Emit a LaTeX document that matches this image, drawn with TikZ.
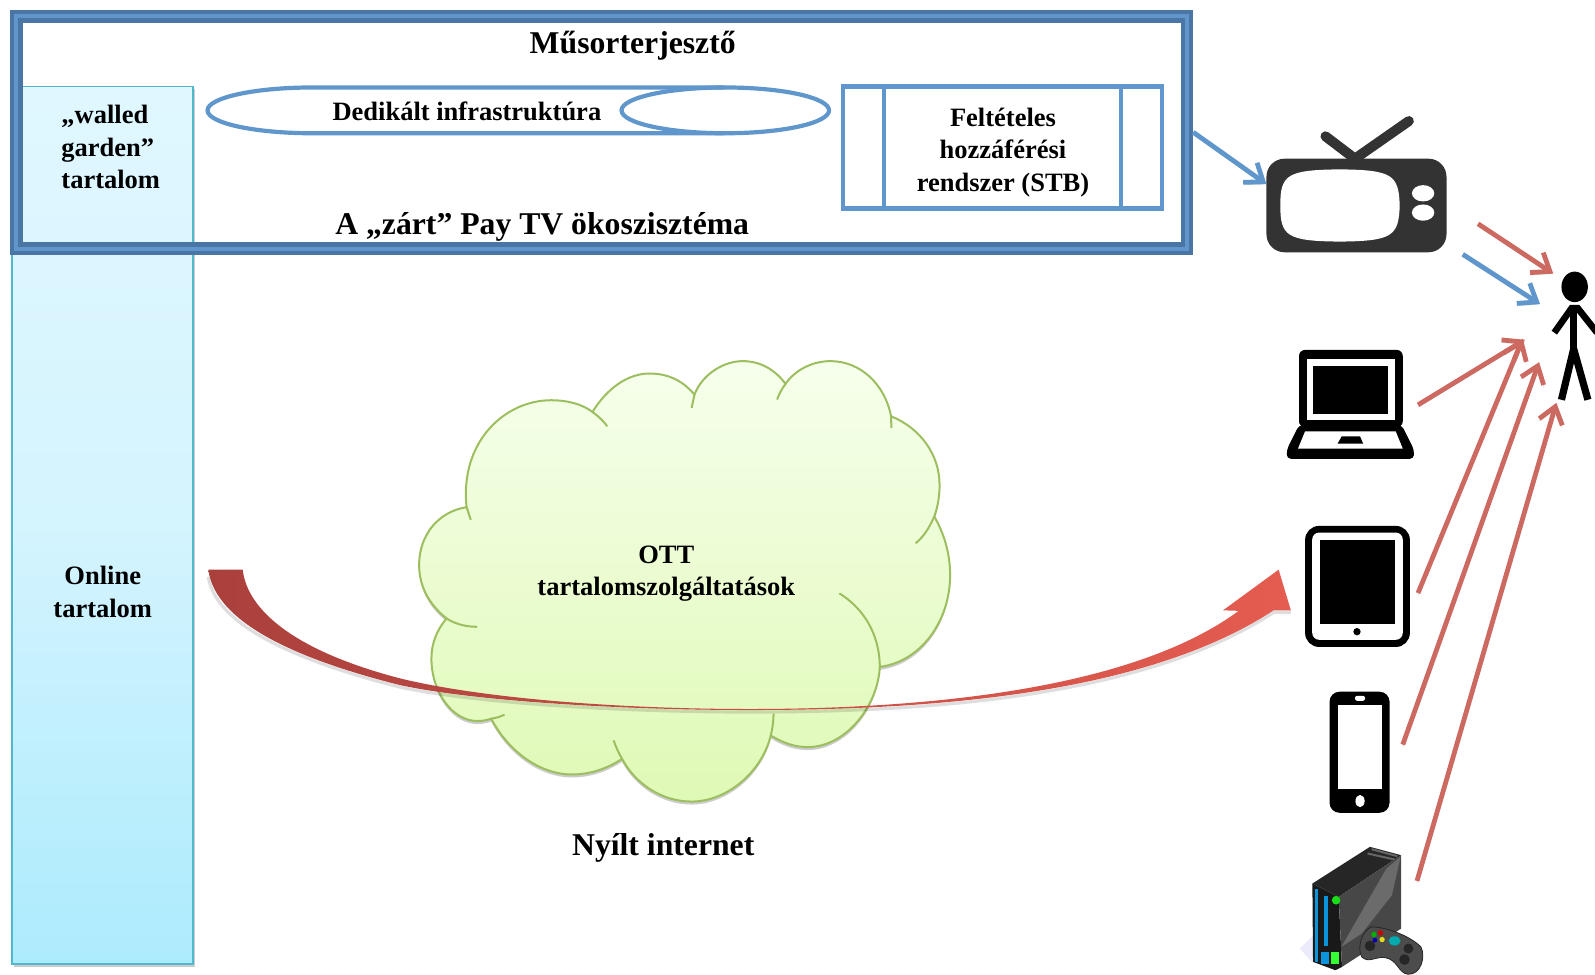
\documentclass[tikz,border=0pt]{standalone}
\usepackage{fontspec}
\setmainfont{Liberation Serif}
\usetikzlibrary{arrows.meta,shadows}
\definecolor{frameDark}{HTML}{4A76A6}
\definecolor{frameLight}{HTML}{6096CC}
\definecolor{blueLine}{HTML}{5F97CD}
\definecolor{redLine}{HTML}{CC6A62}
\definecolor{colEdge}{HTML}{4FB8CE}
\definecolor{cloudEdge}{HTML}{9DBE5F}
\newcommand{\bigtxt}{\fontsize{15.85pt}{17pt}\selectfont\bfseries}
\newcommand{\smalltxt}{\fontsize{13.25pt}{16.3pt}\selectfont\bfseries}
\tikzset{
  x=0.50861pt,y=-0.50861pt,
  big/.style={font=\bigtxt,inner sep=0pt,align=center},
  small/.style={font=\smalltxt,inner sep=0pt,align=center},
  softshadow/.style={preaction={draw=black,draw opacity=.12,transform canvas={yshift=-1.2pt}}},
  bluearrow/.style={draw=blueLine,line width=2.4pt,softshadow,-{Straight Barb[length=8pt,width=12pt]}},
  redarrow/.style={draw=redLine,line width=2.4pt,softshadow,-{Straight Barb[length=8pt,width=12pt]}},
  iconblack/.style={fill=black,draw=none},
}
\begin{document}
\begin{tikzpicture}
\useasboundingbox (0,0) rectangle (1568,957.6);
% left column
\path[drop shadow={shadow xshift=1pt,shadow yshift=-1.5pt,opacity=.2,fill=black},fill=white] (12,85) rectangle (190,948);
\path[draw=colEdge,line width=1pt,top color={rgb,255:red,224;green,247;blue,255},bottom color={rgb,255:red,172;green,235;blue,253},middle color={rgb,255:red,212;green,244;blue,254}] (12,85) rectangle (190,948);
% frame
\fill[white] (12,10) rectangle (1173,85);
\draw[frameDark,line width=6.3pt] (16,16) rectangle (1167,244.5);
\draw[frameLight,line width=2.2pt] (16,16) rectangle (1167,244.5);
% cylinder
\draw[blueLine,line width=2.1pt] (712,86) -- (307,86) arc[start angle=270,end angle=90,x radius=103,y radius=22.5] -- (712,131);
\draw[blueLine,line width=2.1pt] (713,108.5) ellipse [x radius=102,y radius=22.5];
% conditional access box
\draw[blueLine,line width=2.1pt] (829,85) rectangle (1142,205);
\draw[blueLine,line width=2.1pt] (869,85) -- (869,205) (1102,85) -- (1102,205);
% texts in frame
\node[big] (title) at (622,45) {Műsorterjesztő};
\node[small] (infra) at (459,109) {Dedikált infrastruktúra};
\node[small] (cas) at (986,150) {Feltételes\\hozzáférési\\rendszer (STB)};
\node[big] (payt) at (533,223) {A „zárt” Pay TV ökoszisztéma};
\node[small,align=left,anchor=west] (walled) at (60,144.5) {„walled\\garden”\\tartalom};
\node[small] (online) at (101,582) {Online\\tartalom};
% cloud
\begin{scope}[shift={(393,335.3)},x=0.17583pt,y=-0.16708pt]
\path[drop shadow={shadow xshift=0pt,shadow yshift=-1.5pt,opacity=.2,fill=black},draw=cloudEdge,line width=1pt,top color={rgb,255:red,246;green,255;blue,236},bottom color={rgb,255:red,223;green,249;blue,181}]
 (190,497) .. controls (170,300) and (300,177) .. (430,177)
 .. controls (480,177) and (520,190) .. (548,212)
 .. controls (590,140) and (650,97) .. (710,97)
 .. controls (770,97) and (810,125) .. (838,160)
 .. controls (860,100) and (920,60) .. (975,60)
 .. controls (1030,60) and (1070,90) .. (1097,128)
 .. controls (1125,85) and (1175,60) .. (1225,60)
 .. controls (1310,60) and (1380,130) .. (1397,225)
 .. controls (1480,260) and (1535,340) .. (1535,430)
 .. controls (1535,465) and (1530,495) .. (1520,525)
 .. controls (1550,580) and (1565,640) .. (1565,700)
 .. controls (1565,840) and (1480,960) .. (1365,975)
 .. controls (1360,1090) and (1270,1215) .. (1160,1215)
 .. controls (1120,1215) and (1085,1200) .. (1055,1180)
 .. controls (1030,1290) and (930,1378) .. (830,1378)
 .. controls (745,1378) and (670,1325) .. (632,1250)
 .. controls (590,1280) and (540,1297) .. (490,1297)
 .. controls (400,1297) and (310,1230) .. (260,1130)
 .. controls (245,1135) and (235,1137) .. (220,1137)
 .. controls (150,1137) and (90,1050) .. (90,950)
 .. controls (90,905) and (105,865) .. (133,830)
 .. controls (85,790) and (55,735) .. (55,670)
 .. controls (55,580) and (110,510) .. (190,497) -- cycle;
\draw[cloudEdge,line width=1pt]
 (190,497) -- (202,535)
 (548,212) .. controls (565,225) and (580,240) .. (590,255)
 (838,160) -- (830,200)
 (1097,128) .. controls (1085,145) and (1078,160) .. (1073,175)
 (1397,225) -- (1398,260)
 (1520,525) .. controls (1505,560) and (1490,585) .. (1467,605)
 (1365,975) .. controls (1365,880) and (1320,800) .. (1250,755)
 (1055,1180) .. controls (1060,1160) and (1063,1135) .. (1063,1115)
 (632,1250) .. controls (622,1232) and (615,1215) .. (608,1195)
 (260,1130) .. controls (275,1128) and (285,1124) .. (298,1118)
 (133,830) .. controls (160,848) and (190,855) .. (220,855);
\end{scope}
\node[small] (ott) at (655,564) {OTT\\tartalomszolgáltatások};
\node[big] (open) at (652,834) {Nyílt internet};
% big curved arrow
\draw[black,opacity=.13,line width=1.6pt,transform canvas={yshift=-1.0pt}]
 (204.8,565) .. controls (212,615) and (300,650) .. (393.3,673.5)
 .. controls (470,690) and (620,698) .. (737,698)
 .. controls (930,698) and (1130,680) .. (1252,600) -- (1269,600);
\path[left color={rgb,255:red,170;green,64;blue,60},middle color={rgb,255:red,192;green,85;blue,80},right color={rgb,255:red,229;green,92;blue,80}]
 (204.8,560) -- (238.6,560)
 .. controls (243,600) and (290,640) .. (393.3,666.9)
 .. controls (480,688) and (620,697) .. (737,697)
 .. controls (900,697) and (1110,680) .. (1217.7,600.5)
 -- (1202.3,600) -- (1257,560) -- (1269,600) -- (1252,600)
 .. controls (1130,680) and (930,698) .. (737,698)
 .. controls (620,698) and (470,690) .. (393.3,673.5)
 .. controls (300,650) and (212,615) .. (204.8,560) -- cycle;
% TV
\draw[black!80,line width=5pt,line cap=round] (1303,134) -- (1332,156) (1385,119) -- (1332,156);
\fill[black!80,rounded corners=9pt] (1245,156) rectangle (1422,248);
\fill[white] (1258.6,202) .. controls (1258.6,172) and (1265,167) .. (1317,166.5)
 .. controls (1369,167) and (1375,172) .. (1376,202)
 .. controls (1375,232) and (1369,237) .. (1317,237.5)
 .. controls (1265,237) and (1258.6,232) .. (1258.6,202) -- cycle;
\fill[white] (1399,190) ellipse [x radius=11,y radius=8] (1399,209) ellipse [x radius=11,y radius=8];
% person
\fill[black] (1548,282) ellipse [x radius=13,y radius=15];
\draw[black,line width=3.5pt] (1547,300) -- (1547,346);
\draw[black,line width=3.3pt] (1528,327) -- (1545,303) -- (1551,303) -- (1570,327);
\draw[black,line width=3.6pt] (1535,393) -- (1547,343) -- (1561,393);
% laptop
\fill[iconblack,rounded corners=3pt] (1277,344) rectangle (1379,420);
\fill[iconblack,rounded corners=2pt] (1277,418) -- (1265,442) -- (1265,451) -- (1390,451) -- (1390,442) -- (1378,418) -- cycle;
\fill[white] (1285,353) rectangle (1371,413);
\fill[black] (1291,360) rectangle (1364,407);
\fill[white] (1283,424) -- (1372,424) -- (1379,441) -- (1276,441) -- cycle;
\fill[black] (1319,429) -- (1337,429) -- (1340,436) -- (1315,436) -- cycle;
% tablet
\fill[black,rounded corners=7pt] (1283,517) rectangle (1386,636);
\fill[white,rounded corners=3.5pt] (1290,523.5) rectangle (1379,629);
\fill[black] (1298,531) rectangle (1371,613);
\fill[black] (1334,621) circle [radius=3.6];
% phone
\fill[black,rounded corners=5pt] (1307,680) rectangle (1366,799);
\fill[white] (1315,693) rectangle (1359,776);
\fill[white,rounded corners=1.2pt] (1332,684) rectangle (1342,689);
\fill[white] (1337,787.5) ellipse [x radius=4.5,y radius=6];
% console
\begin{scope}[shift={(1219,491.6)},x=0.16448pt,y=-0.16672pt]
\fill[black!15!blue!8!white] (222,1305) -- (182,1345) -- (222,1390) -- cycle;
\fill[black!90] (220,1150) -- (300,1190) -- (310,1400) -- (290,1410) -- (222,1385) -- cycle;
\fill[black!85] (220,1150) -- (395,1040) -- (490,1065) -- (300,1190) -- cycle;
\draw[black!60,line width=1pt] (388,1060) -- (470,1078) (400,1047) -- (478,1068);
\fill[black!72] (300,1190) -- (490,1065) -- (490,1285) -- (310,1400) -- cycle;
\fill[black!58] (308,1340) -- (445,1105) -- (488,1070) -- (462,1185) -- (370,1300) -- cycle;
\fill[cyan!80!blue] (229,1165) rectangle (238,1385);
\fill[cyan!80!blue] (255,1188) rectangle (267,1338);
\fill[green!85!black!90!white] (292,1200) circle [radius=13];
\fill[cyan!80!blue] (247,1355) rectangle (272,1392);
\fill[green!80!white] (277,1355) rectangle (302,1392);
\fill[black!70,draw=black!85,line width=.4pt] (400,1280) .. controls (440,1280) and (515,1305) .. (550,1340) .. controls (565,1370) and (550,1425) .. (510,1422) .. controls (480,1418) and (480,1378) .. (440,1372) .. controls (415,1368) and (390,1390) .. (370,1370) .. controls (355,1345) and (370,1290) .. (400,1280) -- cycle;
\fill[green!70!black] (407,1303) circle [radius=8];
\fill[red!80!black] (427,1298) circle [radius=8];
\fill[yellow!90!black] (432,1318) circle [radius=8];
\fill[blue!70!black] (410,1320) circle [radius=7];
\fill[cyan!60!green] (470,1322) ellipse [x radius=18,y radius=14];
\fill[black!85] (395,1337) circle [radius=16] (512,1345) circle [radius=15] (500,1378) circle [radius=16];
\end{scope}
% connectors
\coordinate (framePort) at (1173,130);
\coordinate (tvPort) at (1245,181);
\coordinate (tvRed) at (1453,220);
\coordinate (personA) at (1527,269);
\coordinate (tvBlue) at (1438,250);
\coordinate (personB) at (1514,299);
\coordinate (laptopOut) at (1394,398);
\coordinate (personC) at (1499,334);
\coordinate (tabletOut) at (1394,583);
\coordinate (personD) at (1497,333);
\coordinate (phoneOut) at (1379,732);
\coordinate (personE) at (1513,356);
\coordinate (consoleOut) at (1393,866);
\coordinate (personF) at (1530,396);
\draw[bluearrow] (framePort) -- (tvPort);
\draw[bluearrow] (tvBlue) -- (personB);
\draw[redarrow] (tvRed) -- (personA);
\draw[redarrow] (laptopOut) -- (personC);
\draw[redarrow] (tabletOut) -- (personD);
\draw[redarrow] (phoneOut) -- (personE);
\draw[redarrow] (consoleOut) -- (personF);
\end{tikzpicture}
\end{document}
